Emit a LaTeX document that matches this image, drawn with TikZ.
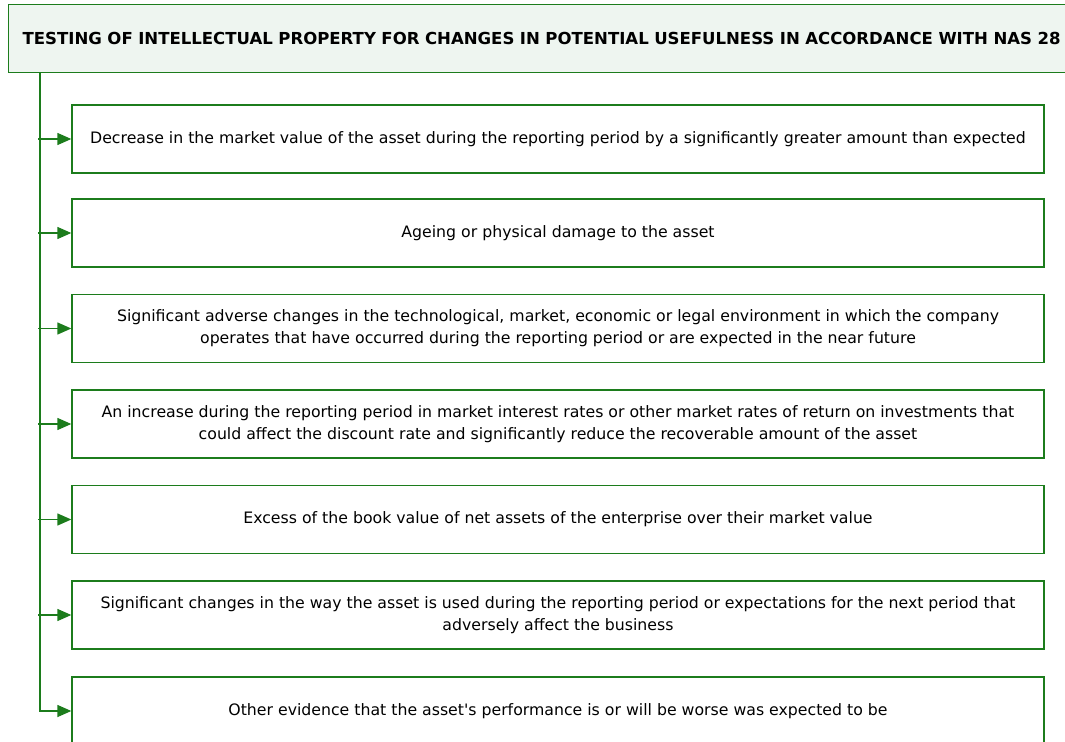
\documentclass[tikz,border=0pt]{standalone}
\usepackage{fontspec}
\setmainfont{DejaVu Sans}
\usepackage{xcolor}
\usetikzlibrary{arrows.meta, positioning}
\definecolor{lineGreen}{RGB}{28,124,28}
\definecolor{headFill}{RGB}{238,245,240}
\tikzset{
    headbox/.style={draw=lineGreen, fill=headFill, line width=1pt, minimum height=51pt,
        text width=800pt, inner xsep=10.5pt, align=left, anchor=north west,
        font=\fontsize{12.4}{14}\selectfont\bfseries},
    itembox/.style={draw=lineGreen, line width=1pt, minimum width=729pt, minimum height=51pt,
        align=center, inner sep=0pt},
    link/.style={draw=lineGreen, line width=1pt, -{Triangle[length=10.5pt, width=9pt]}}
}

\begin{document}
\begin{tikzpicture}[x=0.75pt, y=-0.75pt, font=\fontsize{11.8}{16.5}\selectfont]
    \useasboundingbox (0, 0) rectangle (1065, 742);
    \clip (0, 0) rectangle (1065, 742);

    \node[headbox] (head) at (8, 4) {TESTING OF INTELLECTUAL PROPERTY FOR CHANGES IN POTENTIAL USEFULNESS IN ACCORDANCE WITH NAS 28};

    \node[itembox] (b1) at (558, 139) {Decrease in the market value of the asset during the reporting period by a significantly greater amount than expected};
    \node[itembox] (b2) at (558, 233) {Ageing or physical damage to the asset};
    \node[itembox] (b3) at (558, 328.5) {Significant adverse changes in the technological, market, economic or legal environment in which the company\\operates that have occurred during the reporting period or are expected in the near future};
    \node[itembox] (b4) at (558, 424) {An increase during the reporting period in market interest rates or other market rates of return on investments that\\could affect the discount rate and significantly reduce the recoverable amount of the asset};
    \node[itembox] (b5) at (558, 519.5) {Excess of the book value of net assets of the enterprise over their market value};
    \node[itembox] (b6) at (558, 615) {Significant changes in the way the asset is used during the reporting period or expectations for the next period that\\adversely affect the business};
    \node[itembox] (b7) at (558, 711) {Other evidence that the asset\textquotesingle s performance is or will be worse was expected to be};

    \coordinate (trunk) at ([xshift=24pt]head.south west);

    \draw[link] (trunk) |- (b7.west);
    \foreach \b in {b1, b2, b3, b4, b5, b6}
        \draw[link] ([xshift=-1.5pt]trunk |- \b.west) -- (\b.west);
\end{tikzpicture}
\end{document}
